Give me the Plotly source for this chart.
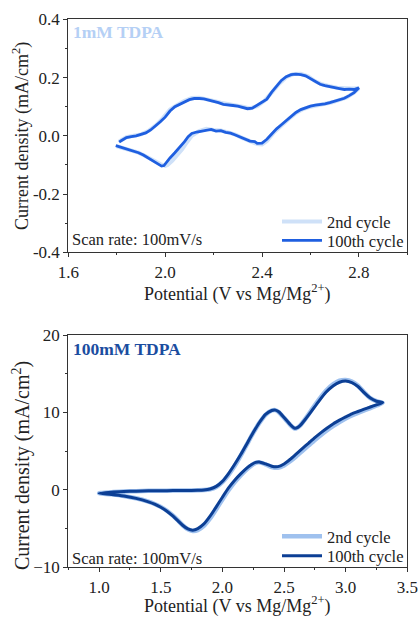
import plotly.graph_objects as go

# ---------------- Top panel: 1 mM TDPA ----------------
top_v_100 = [1.796, 1.82, 1.85, 1.87, 1.89, 1.91, 1.93, 1.95, 1.97, 1.985, 1.995, 2.005, 2.02, 2.04, 2.06, 2.08,
             2.095, 2.11, 2.13, 2.15, 2.17, 2.19, 2.21, 2.23, 2.25, 2.27, 2.29, 2.31, 2.33, 2.35, 2.37, 2.38,
             2.40, 2.42, 2.44, 2.46, 2.48, 2.50, 2.52, 2.54, 2.56, 2.58, 2.60, 2.62, 2.64, 2.66, 2.68, 2.70,
             2.72, 2.74, 2.76, 2.78, 2.80,
             2.78, 2.76, 2.74, 2.72, 2.70, 2.68, 2.66, 2.64, 2.62, 2.60, 2.58, 2.56, 2.54, 2.52, 2.50, 2.48,
             2.46, 2.44, 2.42, 2.40, 2.38, 2.36, 2.34, 2.32, 2.30, 2.28, 2.26, 2.24, 2.22, 2.20, 2.18, 2.16,
             2.14, 2.12, 2.10, 2.08, 2.06, 2.04, 2.02, 2.00, 1.98, 1.96, 1.94, 1.92, 1.90, 1.88, 1.86, 1.84,
             1.82, 1.81]
top_i_100 = [-0.034, -0.040, -0.047, -0.052, -0.058, -0.066, -0.076, -0.085, -0.095, -0.104, -0.102, -0.090,
             -0.076, -0.058, -0.040, -0.020, -0.003, 0.008, 0.013, 0.016, 0.020, 0.022, 0.016, 0.018, 0.012,
             0.009, 0.003, -0.004, -0.012, -0.018, -0.020, -0.026, -0.025, -0.012, 0.006, 0.024, 0.038,
             0.052, 0.066, 0.080, 0.090, 0.097, 0.102, 0.105, 0.107, 0.110, 0.114, 0.119, 0.124, 0.129,
             0.138, 0.148, 0.165,
             0.159, 0.160, 0.159, 0.162, 0.165, 0.168, 0.172, 0.177, 0.186, 0.196, 0.206, 0.210, 0.212,
             0.210, 0.203, 0.190, 0.170, 0.150, 0.126, 0.115, 0.103, 0.095, 0.093, 0.098, 0.102, 0.104,
             0.105, 0.108, 0.114, 0.118, 0.124, 0.127, 0.128, 0.128, 0.124, 0.116, 0.106, 0.100, 0.085,
             0.064, 0.048, 0.034, 0.020, 0.010, 0.004, 0.000, -0.003, -0.006, -0.016, -0.022]

top_v_2 = [1.80, 1.83, 1.86, 1.89, 1.92, 1.95, 1.98, 2.00, 2.01, 2.03, 2.05, 2.07, 2.09, 2.11, 2.14, 2.17,
           2.20, 2.23, 2.26, 2.29, 2.32, 2.35, 2.38, 2.40, 2.42, 2.45, 2.48, 2.51, 2.54, 2.57, 2.60, 2.63,
           2.66, 2.69, 2.72, 2.75, 2.78, 2.80,
           2.77, 2.74, 2.71, 2.68, 2.65, 2.62, 2.59, 2.56, 2.53, 2.50, 2.47, 2.44, 2.41, 2.38, 2.35, 2.32,
           2.29, 2.26, 2.23, 2.20, 2.17, 2.14, 2.11, 2.08, 2.05, 2.02, 1.99, 1.96, 1.93, 1.90, 1.87, 1.84,
           1.82, 1.81]
top_i_2 = [-0.036, -0.043, -0.050, -0.058, -0.070, -0.084, -0.097, -0.103, -0.100, -0.085, -0.066, -0.046,
           -0.022, 0.000, 0.016, 0.024, 0.020, 0.018, 0.012, 0.004, -0.008, -0.018, -0.028, -0.030, -0.018,
           0.012, 0.036, 0.058, 0.078, 0.092, 0.100, 0.105, 0.108, 0.115, 0.123, 0.132, 0.148, 0.163,
           0.162, 0.163, 0.165, 0.170, 0.176, 0.187, 0.204, 0.213, 0.212, 0.201, 0.178, 0.148, 0.120, 0.102,
           0.094, 0.100, 0.104, 0.108, 0.114, 0.120, 0.126, 0.131, 0.130, 0.120, 0.106, 0.090, 0.060, 0.035,
           0.016, 0.005, 0.000, -0.005, -0.014, -0.020]

# ---------------- Bottom panel: 100 mM TDPA ----------------
bot_v_100 = [1.00, 1.10, 1.20, 1.30, 1.40, 1.50, 1.60, 1.70, 1.80, 1.85, 1.90, 1.95, 2.00, 2.05, 2.10, 2.15,
             2.20, 2.25, 2.30, 2.35, 2.40, 2.43, 2.46, 2.50, 2.55, 2.58, 2.60, 2.63, 2.67, 2.72, 2.78, 2.84,
             2.90, 2.95, 3.00, 3.05, 3.10, 3.15, 3.20, 3.25, 3.30,
             3.25, 3.20, 3.15, 3.10, 3.05, 3.00, 2.95, 2.90, 2.85, 2.80, 2.75, 2.70, 2.65, 2.60, 2.55, 2.50,
             2.45, 2.40, 2.35, 2.30, 2.27, 2.24, 2.20, 2.15, 2.10, 2.05, 2.00, 1.95, 1.90, 1.85, 1.80, 1.76,
             1.72, 1.68, 1.64, 1.60, 1.55, 1.50, 1.45, 1.40, 1.30, 1.20, 1.10, 1.00]
bot_i_100 = [-0.45, -0.30, -0.22, -0.17, -0.13, -0.11, -0.09, -0.08, -0.06, -0.02, 0.12, 0.45, 1.10, 2.10,
             3.30, 4.60, 6.00, 7.40, 8.70, 9.75, 10.25, 10.30, 10.05, 9.35, 8.45, 8.02, 7.98, 8.30, 9.05,
             10.10, 11.40, 12.60, 13.45, 13.90, 14.05, 13.85, 13.35, 12.55, 11.85, 11.45, 11.28,
             10.98, 10.70, 10.42, 10.12, 9.82, 9.42, 9.00, 8.55, 8.00, 7.40, 6.75, 6.05, 5.35, 4.65, 3.95,
             3.35, 3.00, 3.05, 3.35, 3.60, 3.55, 3.30, 2.85, 2.10, 1.25, 0.25, -0.95, -2.20, -3.40, -4.40,
             -5.00, -5.20, -5.05, -4.60, -4.00, -3.40, -2.75, -2.25, -1.85, -1.55, -1.10, -0.80, -0.60, -0.45]

bot_v_2 = [1.00, 1.10, 1.20, 1.30, 1.40, 1.50, 1.60, 1.70, 1.80, 1.85, 1.90, 1.95, 2.00, 2.05, 2.10, 2.15,
           2.20, 2.25, 2.30, 2.35, 2.40, 2.43, 2.46, 2.50, 2.55, 2.58, 2.60, 2.63, 2.67, 2.72, 2.78, 2.84,
           2.90, 2.95, 3.00, 3.05, 3.10, 3.15, 3.20, 3.25, 3.30,
           3.25, 3.20, 3.15, 3.10, 3.05, 3.00, 2.95, 2.90, 2.85, 2.80, 2.75, 2.70, 2.65, 2.60, 2.55, 2.50,
           2.45, 2.40, 2.35, 2.30, 2.27, 2.24, 2.20, 2.15, 2.10, 2.05, 2.00, 1.95, 1.90, 1.85, 1.80, 1.76,
           1.72, 1.68, 1.64, 1.60, 1.55, 1.50, 1.45, 1.40, 1.30, 1.20, 1.10, 1.00]
bot_i_2 = [-0.45, -0.30, -0.22, -0.17, -0.13, -0.11, -0.09, -0.08, -0.06, -0.03, 0.08, 0.38, 1.00, 1.95,
           3.10, 4.45, 5.90, 7.35, 8.65, 9.70, 10.25, 10.30, 10.00, 9.30, 8.40, 7.98, 7.95, 8.30, 9.10,
           10.25, 11.60, 12.80, 13.65, 14.10, 14.20, 14.00, 13.45, 12.60, 11.85, 11.45, 11.25,
           10.90, 10.55, 10.25, 9.95, 9.60, 9.20, 8.75, 8.25, 7.70, 7.10, 6.45, 5.75, 5.05, 4.35, 3.70,
           3.15, 2.85, 2.95, 3.30, 3.55, 3.50, 3.20, 2.70, 1.90, 1.00, -0.05, -1.25, -2.50, -3.70, -4.65,
           -5.20, -5.30, -5.10, -4.60, -3.95, -3.35, -2.70, -2.20, -1.82, -1.52, -1.08, -0.78, -0.58, -0.45]

# axis ticks
top_xticks = [1.6, 2.0, 2.4, 2.8]
top_xticktext = ["1.6", "2.0", "2.4", "2.8"]
top_yticks = [-0.4, -0.2, 0.0, 0.2, 0.4]
top_yticktext = ["-0.4", "-0.2", "0.0", "0.2", "0.4"]
bot_xticks = [1.0, 1.5, 2.0, 2.5, 3.0, 3.5]
bot_xticktext = ["1.0", "1.5", "2.0", "2.5", "3.0", "3.5"]
bot_yticks = [-10, 0, 10, 20]
bot_yticktext = ["\u221210", "0", "10", "20"]

FONT = "Liberation Serif"
W, H = 418, 617
XDOM = [68.3 / W, 407.3 / W]
YDOM_TOP = [1 - 252.3 / H, 1 - 19.3 / H]
YDOM_BOT = [1 - 567.3 / H, 1 - 335.0 / H]

c_top2, c_top100 = "#cfe1f8", "#1f5fe0"
c_bot2, c_bot100 = "#9fc1ee", "#0c3f95"

fig = go.Figure()
fig.add_trace(go.Scatter(x=top_v_2, y=top_i_2, mode="lines", name="2nd cycle", showlegend=True,
                         line=dict(color=c_top2, width=4), xaxis="x", yaxis="y", legend="legend"))
fig.add_trace(go.Scatter(x=top_v_100, y=top_i_100, mode="lines", name="100th cycle", showlegend=True,
                         line=dict(color=c_top100, width=2.8), xaxis="x", yaxis="y", legend="legend2"))
fig.add_trace(go.Scatter(x=bot_v_2, y=bot_i_2, mode="lines", name="2nd cycle", showlegend=True,
                         line=dict(color=c_bot2, width=4.5, shape="spline", smoothing=0.6),
                         xaxis="x2", yaxis="y2", legend="legend3"))
fig.add_trace(go.Scatter(x=bot_v_100, y=bot_i_100, mode="lines", name="100th cycle", showlegend=True,
                         line=dict(color=c_bot100, width=3, shape="spline", smoothing=0.6),
                         xaxis="x2", yaxis="y2", legend="legend4"))

axis_common = dict(showgrid=False, zeroline=False, showline=True, mirror=True, linecolor="#333333",
                   linewidth=1.2, ticks="outside", ticklen=4, tickwidth=1, tickcolor="#333333",
                   tickfont=dict(family=FONT, size=17, color="#222222"), automargin=False)


def leg(ycenter):
    return dict(x=277 / W, y=1 - ycenter / H, xanchor="left", yanchor="middle", bgcolor="rgba(0,0,0,0)",
                font=dict(family=FONT, size=16.5, color="#222222"), itemwidth=40, visible=True)


fig.update_layout(
    width=W, height=H, template="none", paper_bgcolor="white", plot_bgcolor="white",
    margin=dict(l=0, r=0, t=0, b=0), showlegend=True,
    xaxis=dict(axis_common, domain=XDOM, anchor="y", range=[1.6, 3.0], tickvals=top_xticks,
               ticktext=top_xticktext,
               minor=dict(ticks="outside", ticklen=2, dtick=0.2, tick0=1.6, tickcolor="#333333", showgrid=False)),
    yaxis=dict(axis_common, domain=YDOM_TOP, anchor="x", range=[-0.4, 0.4], tickvals=top_yticks,
               ticktext=top_yticktext,
               minor=dict(ticks="outside", ticklen=2, dtick=0.1, tick0=-0.4, tickcolor="#333333", showgrid=False)),
    xaxis2=dict(axis_common, domain=XDOM, anchor="y2", range=[0.75, 3.5], tickvals=bot_xticks,
                ticktext=bot_xticktext,
                minor=dict(ticks="outside", ticklen=2, dtick=0.25, tick0=0.75, tickcolor="#333333", showgrid=False)),
    yaxis2=dict(axis_common, domain=YDOM_BOT, anchor="x2", range=[-10, 20], tickvals=bot_yticks,
                ticktext=bot_yticktext,
                minor=dict(ticks="outside", ticklen=2, dtick=5, tick0=-10, tickcolor="#333333", showgrid=False)),
    legend=leg(221.7),
    legend2=leg(240.7),
    legend3=leg(536.5),
    legend4=leg(556),
)

ann = []
# panel labels
ann.append(dict(text="<b>1mM TDPA</b>", x=71 / W, y=1 - 32 / H, xref="paper", yref="paper",
                xanchor="left", yanchor="middle", showarrow=False,
                font=dict(family=FONT, size=17.5, color="#b5d0f5")))
ann.append(dict(text="<b>100mM TDPA</b>", x=71 / W, y=1 - 349 / H, xref="paper", yref="paper",
                xanchor="left", yanchor="middle", showarrow=False,
                font=dict(family=FONT, size=17.5, color="#1b4d9f")))
# scan rate
for yy in (240, 558):
    ann.append(dict(text="Scan rate: 100mV/s", x=70 / W, y=1 - yy / H, xref="paper", yref="paper",
                    xanchor="left", yanchor="middle", showarrow=False,
                    font=dict(family=FONT, size=16.5, color="#222222")))
# axis titles
for yy in (293, 605):
    ann.append(dict(text="Potential (V vs Mg/Mg<sup>2+</sup>)", x=237.5 / W, y=1 - yy / H,
                    xref="paper", yref="paper", xanchor="center", yanchor="middle", showarrow=False,
                    font=dict(family=FONT, size=18, color="#222222")))
for yy, fs in ((136, 18), (466, 20)):
    ann.append(dict(text="Current density (mA/cm<sup>2</sup>)", x=21 / W, y=1 - yy / H,
                    xref="paper", yref="paper", xanchor="center", yanchor="middle", showarrow=False,
                    textangle=-90, font=dict(family=FONT, size=fs, color="#222222")))
fig.update_layout(annotations=ann)

fig.write_html("out.html")
